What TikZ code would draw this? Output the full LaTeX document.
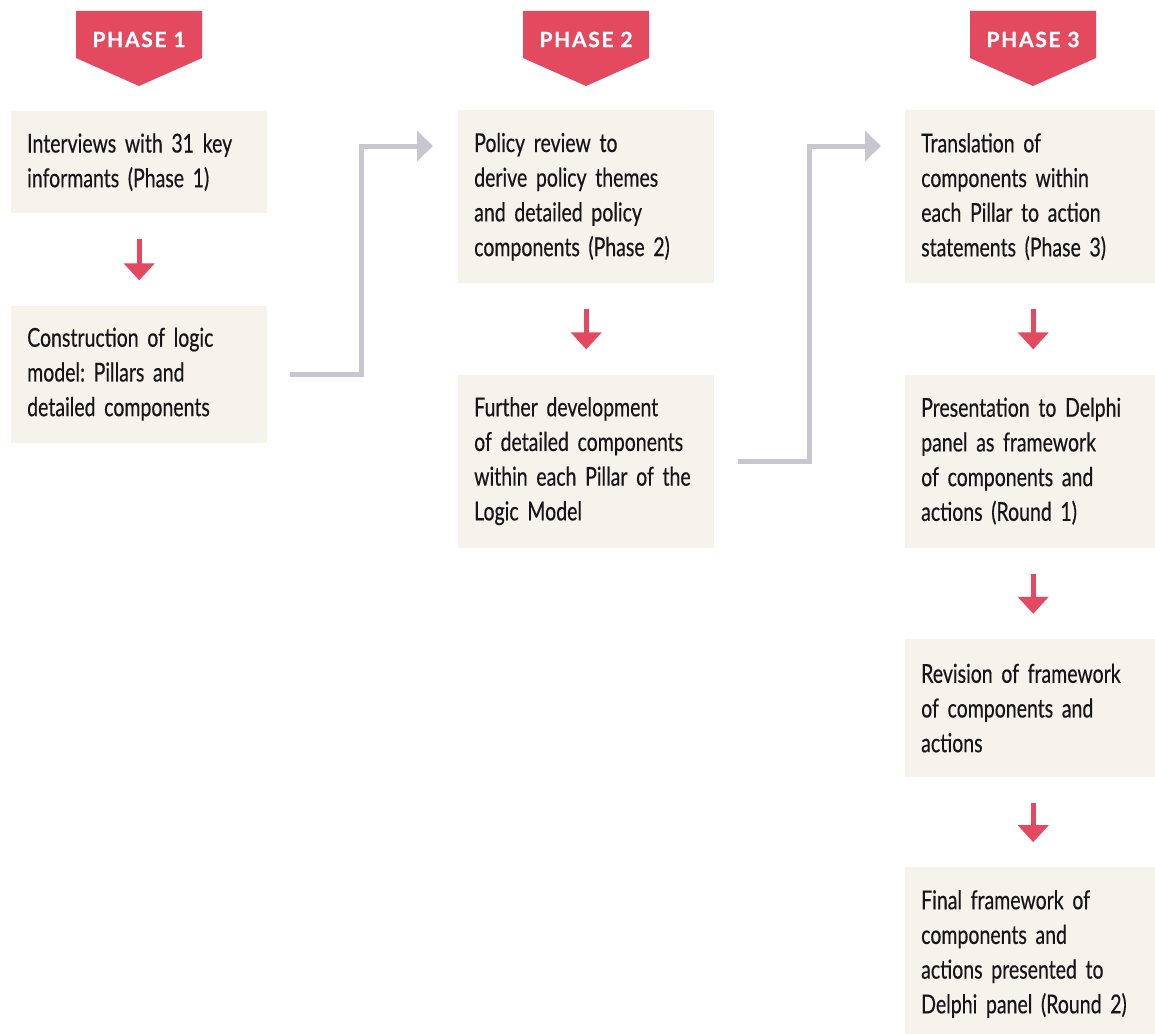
\documentclass[tikz,border=0pt]{standalone}
\usepackage{fontspec}
\setmainfont{Lato}[FakeStretch=0.75, FakeBold=0.4, WordSpace=0.85]
\newfontfamily\badgefont{Lato}[LetterSpace=8, BoldFeatures={FakeBold=0.8}]
\frenchspacing
\usepackage{tikz}
\usetikzlibrary{positioning, arrows.meta, calc}

\definecolor{phasered}{HTML}{E44A5F}
\definecolor{boxfill}{HTML}{F6F3EC}
\definecolor{linkgray}{HTML}{C8C6D1}
\definecolor{inktext}{HTML}{161616}

\begin{document}
\begin{tikzpicture}[
        x=1pt, y=-1pt,
        box/.style={fill=boxfill, minimum width=256pt, minimum height=#1, text width=224pt, inner xsep=16pt, inner ysep=0pt, align=left, text=inktext, font=\fontsize{26}{34.7}\selectfont},
        box/.default=173pt,
        badge/.style={text=white, inner sep=0pt, font=\badgefont\bfseries\fontsize{21}{21}\selectfont},
        flow/.style={-{Triangle[width=30pt, length=17pt]}, line width=5pt, phasered, shorten <=26pt, shorten >=25pt},
        link/.style={-{Triangle[width=30pt, length=16pt]}, line width=5pt, linkgray},
    ]
    \useasboundingbox (0,0) rectangle (1155,1033);
    \clip (0,0) rectangle (1155,1033);

    % Phase badges
    \foreach \x/\n in {139/1, 586/2, 1033/3} {
        \fill[phasered] (\x-63,11) -- (\x+63,11) -- (\x+63,58) -- (\x,86) -- (\x-63,58) -- cycle;
        \node[badge] (ph\n) at (\x,39.5) {PHASE \n};
    }

    % Phase 1
    \node[box=102pt, anchor=north west] (interviews) at (11,111) {Interviews with 31 key\\informants (Phase 1)};
    \node[box=137pt, below=92pt of interviews] (logic) {Construction of logic\\model: Pillars and\\detailed components};

    % Phase 2
    \node[box, anchor=north west] (review) at (458,110) {Policy review to\\derive policy themes\\and detailed policy\\components (Phase 2)};
    \node[box, below=91pt of review] (develop) {Further development\\of detailed components\\within each Pillar of the\\Logic Model};

    % Phase 3
    \node[box, anchor=north west] (translate) at (905,110) {Translation of\\components within\\each Pillar to action\\statements (Phase 3)};
    \node[box, below=91pt of translate] (present) {Presentation to Delphi\\panel as framework\\of components and\\actions (Round 1)};
    \node[box=138pt, below=91pt of present] (revise) {Revision of framework\\of components and\\actions};
    \node[box, below=90pt of revise] (final) {Final framework of\\components and\\actions presented to\\Delphi panel (Round 2)};

    % Steps within a phase
    \draw[flow] (interviews) -- (logic);
    \draw[flow] (review) -- (develop);
    \draw[flow] (translate) -- (present);
    \draw[flow] (present) -- (revise);
    \draw[flow] (revise) -- (final);

    % Links between phases
    \coordinate (l1s) at ($(logic.east)+(23,0)$);
    \coordinate (l1e) at ($(review.north west)+(-25,36)$);
    \draw[link] (l1s) -| ($(l1s)!0.5!(l1e)$) |- (l1e);
    \coordinate (l2s) at ($(develop.east)+(24,0)$);
    \coordinate (l2e) at ($(translate.north west)+(-24,36)$);
    \draw[link] (l2s) -| ($(l2s)!0.5!(l2e)$) |- (l2e);
\end{tikzpicture}
\end{document}
